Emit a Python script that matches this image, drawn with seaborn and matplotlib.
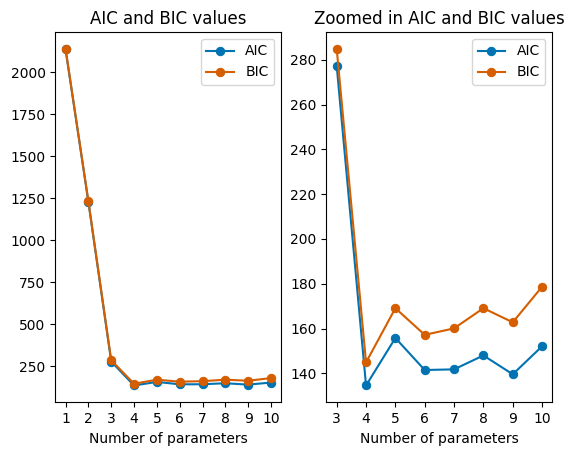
import matplotlib
matplotlib.use("Agg")
import matplotlib.pyplot as plt
import seaborn as sns

# number of parameters and the information criteria
params = [1, 2, 3, 4, 5, 6, 7, 8, 9, 10]
aic = [2136, 1228, 277.3, 134.6, 155.8, 141.5, 141.8, 148.0, 139.6, 152.1]
bic = [2140, 1233, 284.9, 144.9, 169.1, 157.2, 160.1, 169.1, 162.8, 178.7]

colores = sns.color_palette("colorblind")
c_aic = colores[0]
c_bic = colores[3]

fig, (ax1, ax2) = plt.subplots(1, 2, figsize=(5.73, 4.55), dpi=100)
fig.subplots_adjust(left=0.0965, right=0.964, bottom=0.1158, top=0.9297, wspace=0.2)


def dibujar(ax, x, a, b, titulo):
    sns.lineplot(x=x, y=a, marker="o", markersize=6, markeredgecolor=c_aic,
                 color=c_aic, label="AIC", ax=ax)
    sns.lineplot(x=x, y=b, marker="o", markersize=6, markeredgecolor=c_bic,
                 color=c_bic, label="BIC", ax=ax)
    ax.set_xticks(x)
    ax.set_xlabel("Number of parameters")
    ax.set_title(titulo)
    ax.legend(loc="upper right")


dibujar(ax1, params, aic, bic, "AIC and BIC values")
dibujar(ax2, params[2:], aic[2:], bic[2:], "Zoomed in AIC and BIC values")

fig.savefig("out.png", dpi=100)
